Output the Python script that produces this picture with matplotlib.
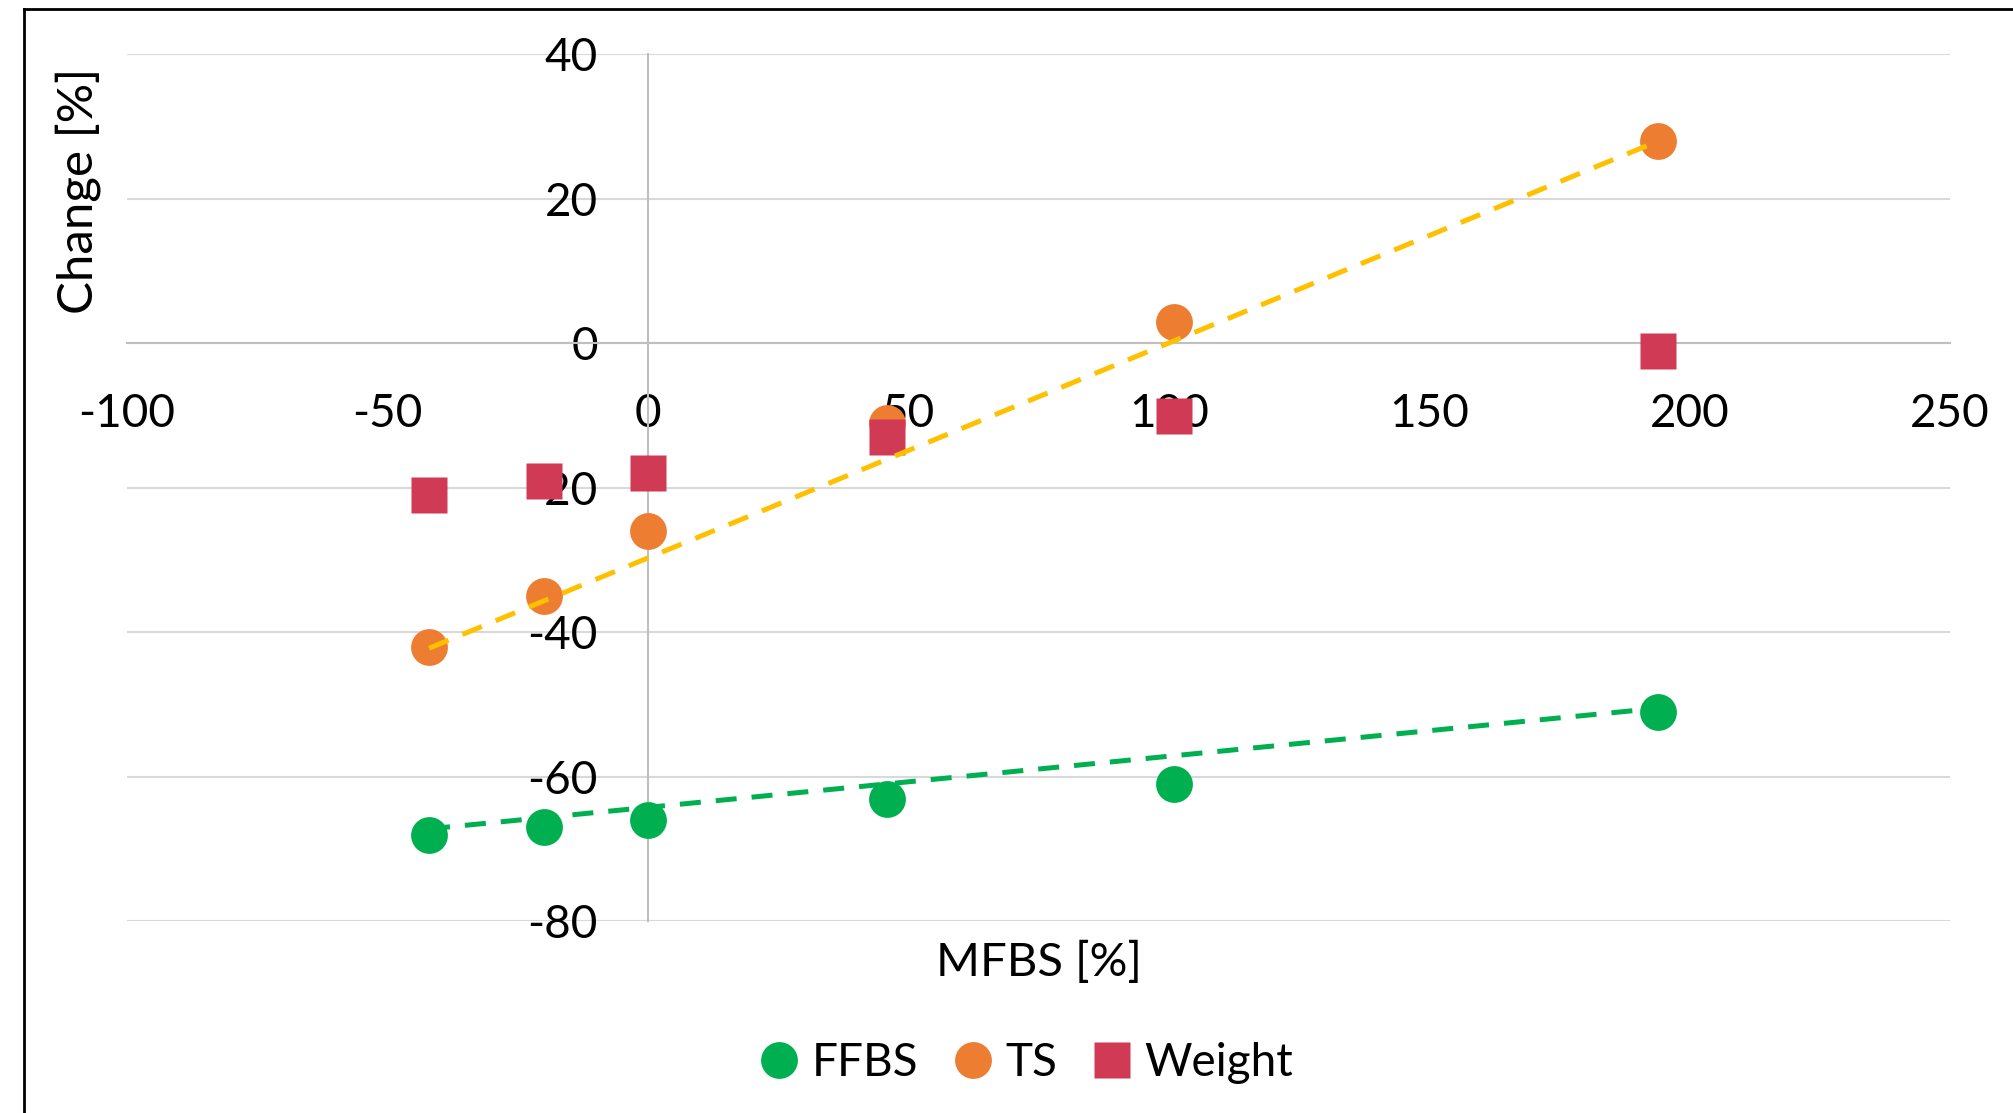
import numpy as np
import matplotlib
matplotlib.use("Agg")
import matplotlib.pyplot as plt
from matplotlib.lines import Line2D

plt.rcParams['font.family'] = ['Lato', 'DejaVu Sans']
plt.rcParams['axes.unicode_minus'] = False

# --- DATA ---
mfbs = [-42, -20, 0, 46, 101, 194]
ffbs = [-68, -67, -66, -63, -61, -51]
ts = [-42, -35, -26, -11, 3, 28]
weight = [-21, -19, -18, -13, -10, -1]

# trendline ends as drawn in the original
trend_x = [-42, 194]
ffbs_trend = [-67.2, -50.5]
ts_trend = [-42.2, 28.0]

x_ticks = [-100, -50, 0, 50, 100, 150, 200, 250]
y_ticks = [-80, -60, -40, -20, 0, 20, 40]

GREEN = "#00B050"
ORANGE = "#ED7D31"
RED = "#D03A55"
GOLD = "#FFC000"
FS = 33

fig = plt.figure(figsize=(20.13, 11.13), dpi=100)
ax = fig.add_axes([0.0631, 0.1722, 0.9056, 0.7790])

ax.set_xlim(-100, 250)
ax.set_ylim(-80, 40)
ax.set_xticks(x_ticks)
ax.set_yticks(y_ticks)
ax.set_xticklabels([str(v) for v in x_ticks])
ax.set_yticklabels([str(v) for v in y_ticks])

ax.grid(axis='y', color='#D9D9D9', lw=1.5)
ax.set_axisbelow(True)
for s in ['top', 'right']:
    ax.spines[s].set_visible(False)
ax.spines['bottom'].set_position(('data', 0))
ax.spines['left'].set_position(('data', 0))
for s in ['bottom', 'left']:
    ax.spines[s].set_color('#BFBFBF')
    ax.spines[s].set_linewidth(1.5)
    ax.spines[s].set_zorder(0.6)
ax.tick_params(axis='x', length=0, pad=36, labelsize=FS)
ax.tick_params(axis='y', length=0, pad=36, labelsize=FS)

# trendlines
ax.plot(trend_x, ffbs_trend, color=GREEN, lw=3.6, dashes=(4.2, 3.0), zorder=3)
ax.plot(trend_x, ts_trend, color=GOLD, lw=3.6, dashes=(4.2, 3.0), zorder=3)

# series
ax.plot(mfbs, ffbs, ls='none', marker='o', ms=26.5, color=GREEN, mec='none', label='FFBS', zorder=2)
ax.plot(mfbs, ts, ls='none', marker='o', ms=26.5, color=ORANGE, mec='none', label='TS', zorder=2)
ax.plot(mfbs, weight, ls='none', marker='s', ms=26, color=RED, mec='none', label='Weight', zorder=2.5)

fig.text(78 / 2013, 1 - 191 / 1113, 'Change [%]', rotation=90, ha='center', va='center', fontsize=35.5)
fig.text(1039 / 2013, 1 - 962 / 1113, 'MFBS [%]', ha='center', va='center', fontsize=34)

handles, labels = ax.get_legend_handles_labels()
fig.legend(handles, labels, loc='center', bbox_to_anchor=(1027 / 2013, 1 - 1063 / 1113),
           ncol=3, frameon=False, fontsize=FS, handlelength=0.8, handletextpad=0.3,
           columnspacing=0.8)

# outer chart frame (only top and left edges visible in the crop)
fig.add_artist(Line2D([24 / 2013, 24 / 2013], [0, 1 - 9 / 1113], transform=fig.transFigure,
                      color='black', lw=2))
fig.add_artist(Line2D([24 / 2013, 1], [1 - 9 / 1113, 1 - 9 / 1113], transform=fig.transFigure,
                      color='black', lw=2))

fig.savefig('out.png', dpi=100)
